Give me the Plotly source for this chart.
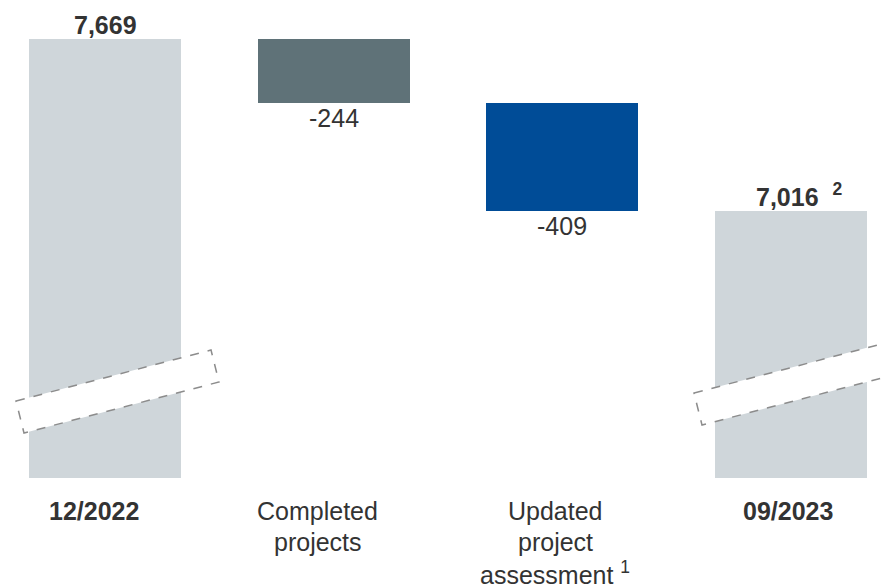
import plotly.graph_objects as go

# ---- data ----
categories = ["12/2022", "Completed projects", "Updated project assessment", "09/2023"]
cat_lines = [["<b>12/2022</b>"], ["Completed", "projects"], ["Updated", "project", "assessment <sup>1</sup>"], ["<b>09/2023</b>"]]
start_value = 7669
changes = [-244, -409]
end_value = 7016
value_labels = ["<b>7,669</b>", "-244", "-409", "<b>7,016&nbsp;&nbsp;<sup>2</sup></b>"]
colors = ["#CFD6DA", "#5F7278", "#004C97", "#CFD6DA"]

# ---- derived bars ----
bases, heights = [0], [start_value]
running = start_value
for c in changes:
    bases.append(running)
    heights.append(c)
    running += c
bases.append(0)
heights.append(end_value)

W, H = 883, 586
mt, mb = 0, 108
plot_h = H - mt - mb
y0, y1 = 6002, 7817
step = 228.5
c0 = 105
label_dx = [-11, -16, -7, -3]
value_dx = [0, 0, 0, 8]

fig = go.Figure()
fig.add_trace(go.Bar(
    x=list(range(len(categories))), y=heights, base=bases,
    marker=dict(color=colors, line=dict(width=0)),
    width=152 / step, hoverinfo="skip", showlegend=False,
))

font = dict(family="Arial, Liberation Sans, sans-serif", size=25, color="#333333")
for i, lab in enumerate(value_labels):
    if heights[i] > 0:
        fig.add_annotation(x=i, y=bases[i] + heights[i], text=lab, showarrow=False,
                           yanchor="bottom", yshift=-2, xshift=value_dx[i], font=font,
                           xref="x", yref="y")
    else:
        fig.add_annotation(x=i, y=bases[i] + heights[i], text=lab, showarrow=False,
                           yanchor="top", yshift=1, xshift=value_dx[i], font=font,
                           xref="x", yref="y")

for i, lines in enumerate(cat_lines):
    for j, ln in enumerate(lines):
        fig.add_annotation(x=i, y=0, xref="x", yref="paper", text=ln, showarrow=False,
                           yanchor="middle", yshift=-(33 + 31 * j), xshift=label_dx[i],
                           font=font)

# axis break markers (decoration), pixel -> paper
def px(x): return x / W
def py(y): return 1 - (y - mt) / plot_h

def brk(pts):
    d = "M " + " L ".join(f"{px(a):.5f},{py(b):.5f}" for a, b in pts) + " Z"
    fig.add_shape(type="path", path=d, xref="paper", yref="paper",
                  fillcolor="white", line=dict(color="#8C8C8C", width=1.5, dash="dash"),
                  layer="above")

brk([(16, 401), (211, 350), (219, 382), (24, 433)])
brk([(694, 393), (889, 342), (897, 374), (702, 425)])

fig.update_layout(
    width=W, height=H,
    margin=dict(l=0, r=0, t=mt, b=mb),
    paper_bgcolor="white", plot_bgcolor="white",
    xaxis=dict(range=[-c0 / step, (W - c0) / step], showticklabels=False,
               showgrid=False, zeroline=False, showline=False, fixedrange=True),
    yaxis=dict(range=[y0, y1], visible=False, showgrid=False, zeroline=False),
    bargap=0,
)
fig.write_html("out.html")
